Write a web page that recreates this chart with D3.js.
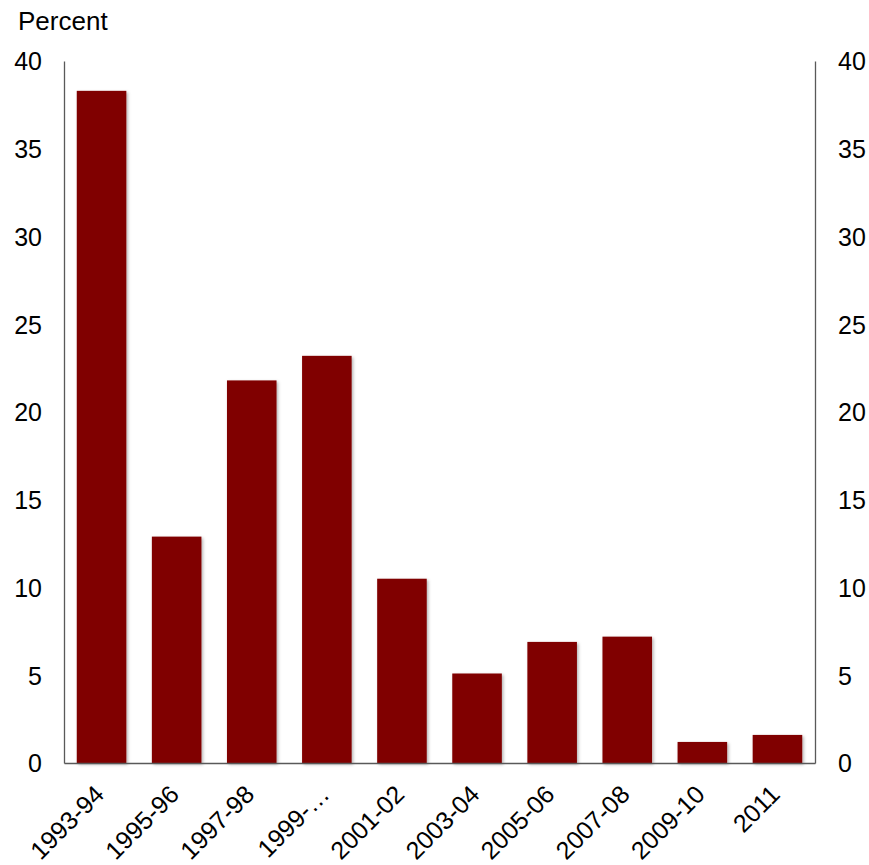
<!DOCTYPE html>
<html>
<head>
<meta charset="utf-8">
<script src="https://cdn.jsdelivr.net/npm/d3@7"></script>
<style>
  body { margin: 0; background: #fff; }
  text { font-family: "Liberation Sans", Arial, sans-serif; fill: #000; }
</style>
</head>
<body>
<div class="canvas"></div>
<script>
const periods = ['1993-94', '1995-96', '1997-98', '1999-…', '2001-02', '2003-04', '2005-06', '2007-08', '2009-10', '2011'];
const percents = [38.3, 12.9, 21.8, 23.2, 10.5, 5.1, 6.9, 7.2, 1.2, 1.6];
const yTicks = [0, 5, 10, 15, 20, 25, 30, 35, 40];

const dims = { width: 869, height: 865 };
const margin = { top: 61, right: 54, bottom: 102, left: 64 };
const inner = {
  width: dims.width - margin.left - margin.right,
  height: dims.height - margin.top - margin.bottom
};

const svg = d3.select('.canvas')
  .append('svg')
  .attr('width', dims.width)
  .attr('height', dims.height);

// soft shadow under the bars
const filter = svg.append('defs').append('filter')
  .attr('id', 'shadow')
  .attr('x', '-10%').attr('y', '-10%')
  .attr('width', '130%').attr('height', '130%');
filter.append('feDropShadow')
  .attr('dx', 1.5).attr('dy', 1.5)
  .attr('stdDeviation', 1.5)
  .attr('flood-color', '#000')
  .attr('flood-opacity', 0.3);

const graph = svg.append('g')
  .attr('transform', `translate(${margin.left}, ${margin.top})`);

const x = d3.scaleBand()
  .domain(periods)
  .range([0, inner.width])
  .paddingInner(0.34)
  .paddingOuter(0.17);

const y = d3.scaleLinear()
  .domain([0, 40])
  .range([inner.height, 0]);

// bars
graph.selectAll('rect')
  .data(periods)
  .enter()
  .append('rect')
    .attr('x', d => x(d))
    .attr('y', (d, i) => y(percents[i]))
    .attr('width', x.bandwidth())
    .attr('height', (d, i) => inner.height - y(percents[i]))
    .attr('fill', '#800000')
    .attr('filter', 'url(#shadow)');

// axes
const leftAxis = d3.axisLeft(y).tickValues(yTicks).tickSize(0).tickPadding(22);
const rightAxis = d3.axisRight(y).tickValues(yTicks).tickSize(0).tickPadding(23);
const bottomAxis = d3.axisBottom(x).tickSize(0).tickPadding(0);

const styleAxis = g => {
  g.select('.domain').attr('stroke', '#595959').attr('stroke-width', 1.3);
  g.selectAll('text').attr('font-size', 25).attr('fill', '#000');
};

graph.append('g').call(leftAxis).call(styleAxis)
  .selectAll('text').attr('dy', '0.35em');

graph.append('g')
  .attr('transform', `translate(${inner.width}, 0)`)
  .call(rightAxis).call(styleAxis)
  .selectAll('text').attr('dy', '0.35em');

const xg = graph.append('g')
  .attr('transform', `translate(0, ${inner.height})`)
  .call(bottomAxis)
  .call(styleAxis);

xg.selectAll('text')
  .attr('font-size', 25)
  .attr('text-anchor', 'end')
  .attr('dy', 0)
  .attr('transform', 'translate(4, 33) rotate(-45)');

// unit label
svg.append('text')
  .attr('x', 18)
  .attr('y', 30)
  .attr('font-size', 26)
  .text('Percent');
</script>
</body>
</html>
